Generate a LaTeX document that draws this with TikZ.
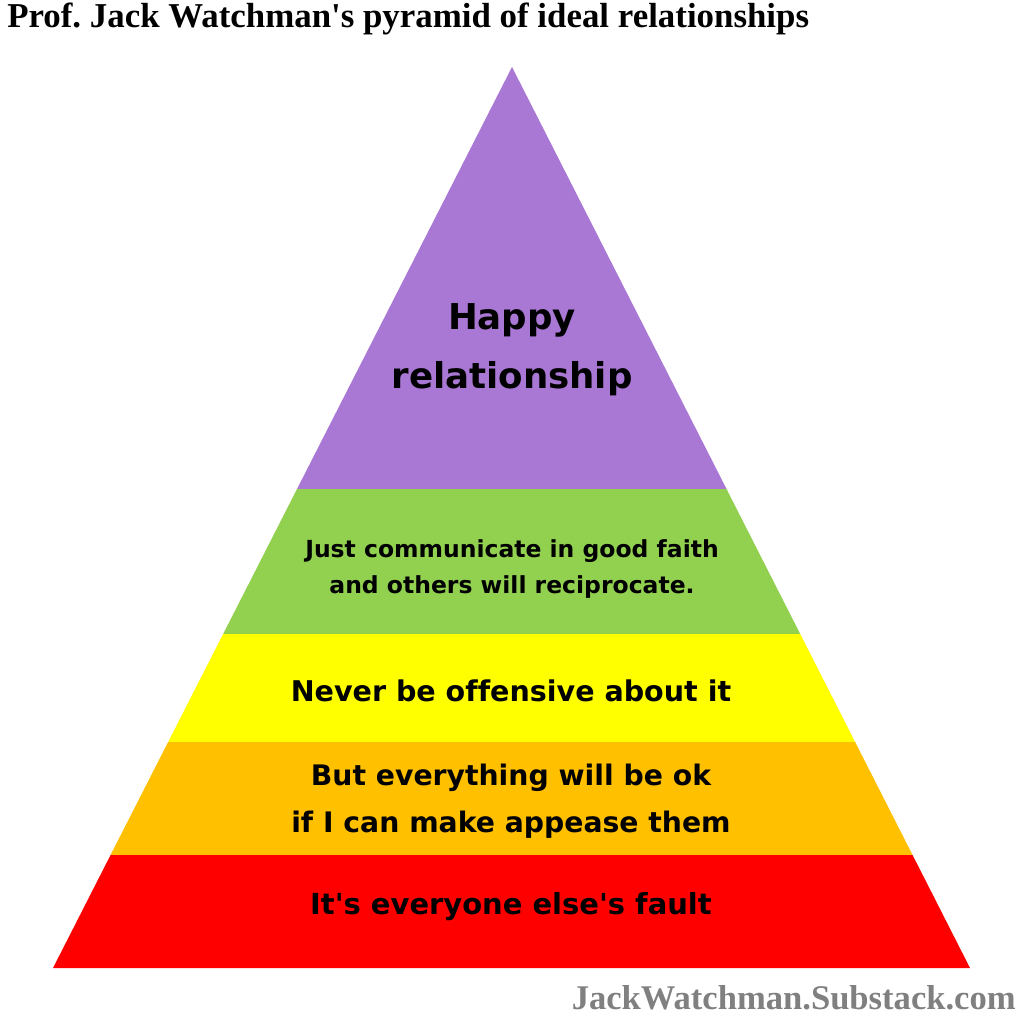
\documentclass[tikz,border=0pt]{standalone}
\usepackage{fontspec}
\setmainfont{Liberation Serif}
\newfontfamily\bandfont[Ligatures=NoCommon]{DejaVu Sans}
\usetikzlibrary{calc}
\frenchspacing

\definecolor{toppurple}{RGB}{169,119,212}
\definecolor{bandgreen}{RGB}{146,208,80}
\definecolor{bandyellow}{RGB}{255,255,0}
\definecolor{bandorange}{RGB}{255,192,0}
\definecolor{bandred}{RGB}{255,0,0}
\definecolor{markgray}{RGB}{128,128,128}

\tikzset{
    bandtext/.style={align=center, font=\bandfont\bfseries, inner sep=0pt},
}

\begin{document}
\begin{tikzpicture}[x=0.025cm, y=-0.025cm]
    \useasboundingbox (0,0) rectangle (1024,1024);

    \coordinate (apex) at (512,67);
    \coordinate (bl) at (53,968);
    \coordinate (br) at (970,968);

    % level corners along the two sides
    \coordinate (l1) at ($(apex)!0.4684!(bl)$);
    \coordinate (r1) at ($(apex)!0.4684!(br)$);
    \coordinate (l2) at ($(apex)!0.6293!(bl)$);
    \coordinate (r2) at ($(apex)!0.6293!(br)$);
    \coordinate (l3) at ($(apex)!0.7492!(bl)$);
    \coordinate (r3) at ($(apex)!0.7492!(br)$);
    \coordinate (l4) at ($(apex)!0.8746!(bl)$);
    \coordinate (r4) at ($(apex)!0.8746!(br)$);

    \fill[toppurple] (apex) -- (r1) -- (l1) -- cycle;
    \fill[bandgreen] (l1) -- (r1) -- (r2) -- (l2) -- cycle;
    \fill[bandyellow] (l2) -- (r2) -- (r3) -- (l3) -- cycle;
    \fill[bandorange] (l3) -- (r3) -- (r4) -- (l4) -- cycle;
    \fill[bandred] (l4) -- (r4) -- (br) -- (bl) -- cycle;

    \node[bandtext, font=\bandfont\bfseries\fontsize{25.3}{42}\selectfont] (happy) at (512,350) {Happy\\relationship};
    \node[bandtext, font=\bandfont\bfseries\fontsize{16.7}{26}\selectfont] (faith) at (512,569) {Just communicate in good faith\\and others will reciprocate.};
    \node[bandtext, font=\bandfont\bfseries\fontsize{20.3}{24}\selectfont] (never) at (511,691) {Never be offensive about it};
    \node[bandtext, font=\bandfont\bfseries\fontsize{20.1}{33}\selectfont] (appease) at (511,801) {But everything will be ok\\if I can make appease them};
    \node[bandtext, font=\bandfont\bfseries\fontsize{20.6}{24}\selectfont] (fault) at (511,907) {It's everyone else's fault};

    \node[anchor=west, inner sep=0pt, font=\bfseries\fontsize{24.8}{28}\selectfont] (title) at (7,19) {Prof. Jack Watchman\textquotesingle s pyramid of ideal relationships};
    \node[anchor=east, inner sep=0pt, text=markgray, font=\bfseries\fontsize{24.6}{28}\selectfont] (mark) at (1016,998) {JackWatchman.Substack.com};
\end{tikzpicture}
\end{document}
